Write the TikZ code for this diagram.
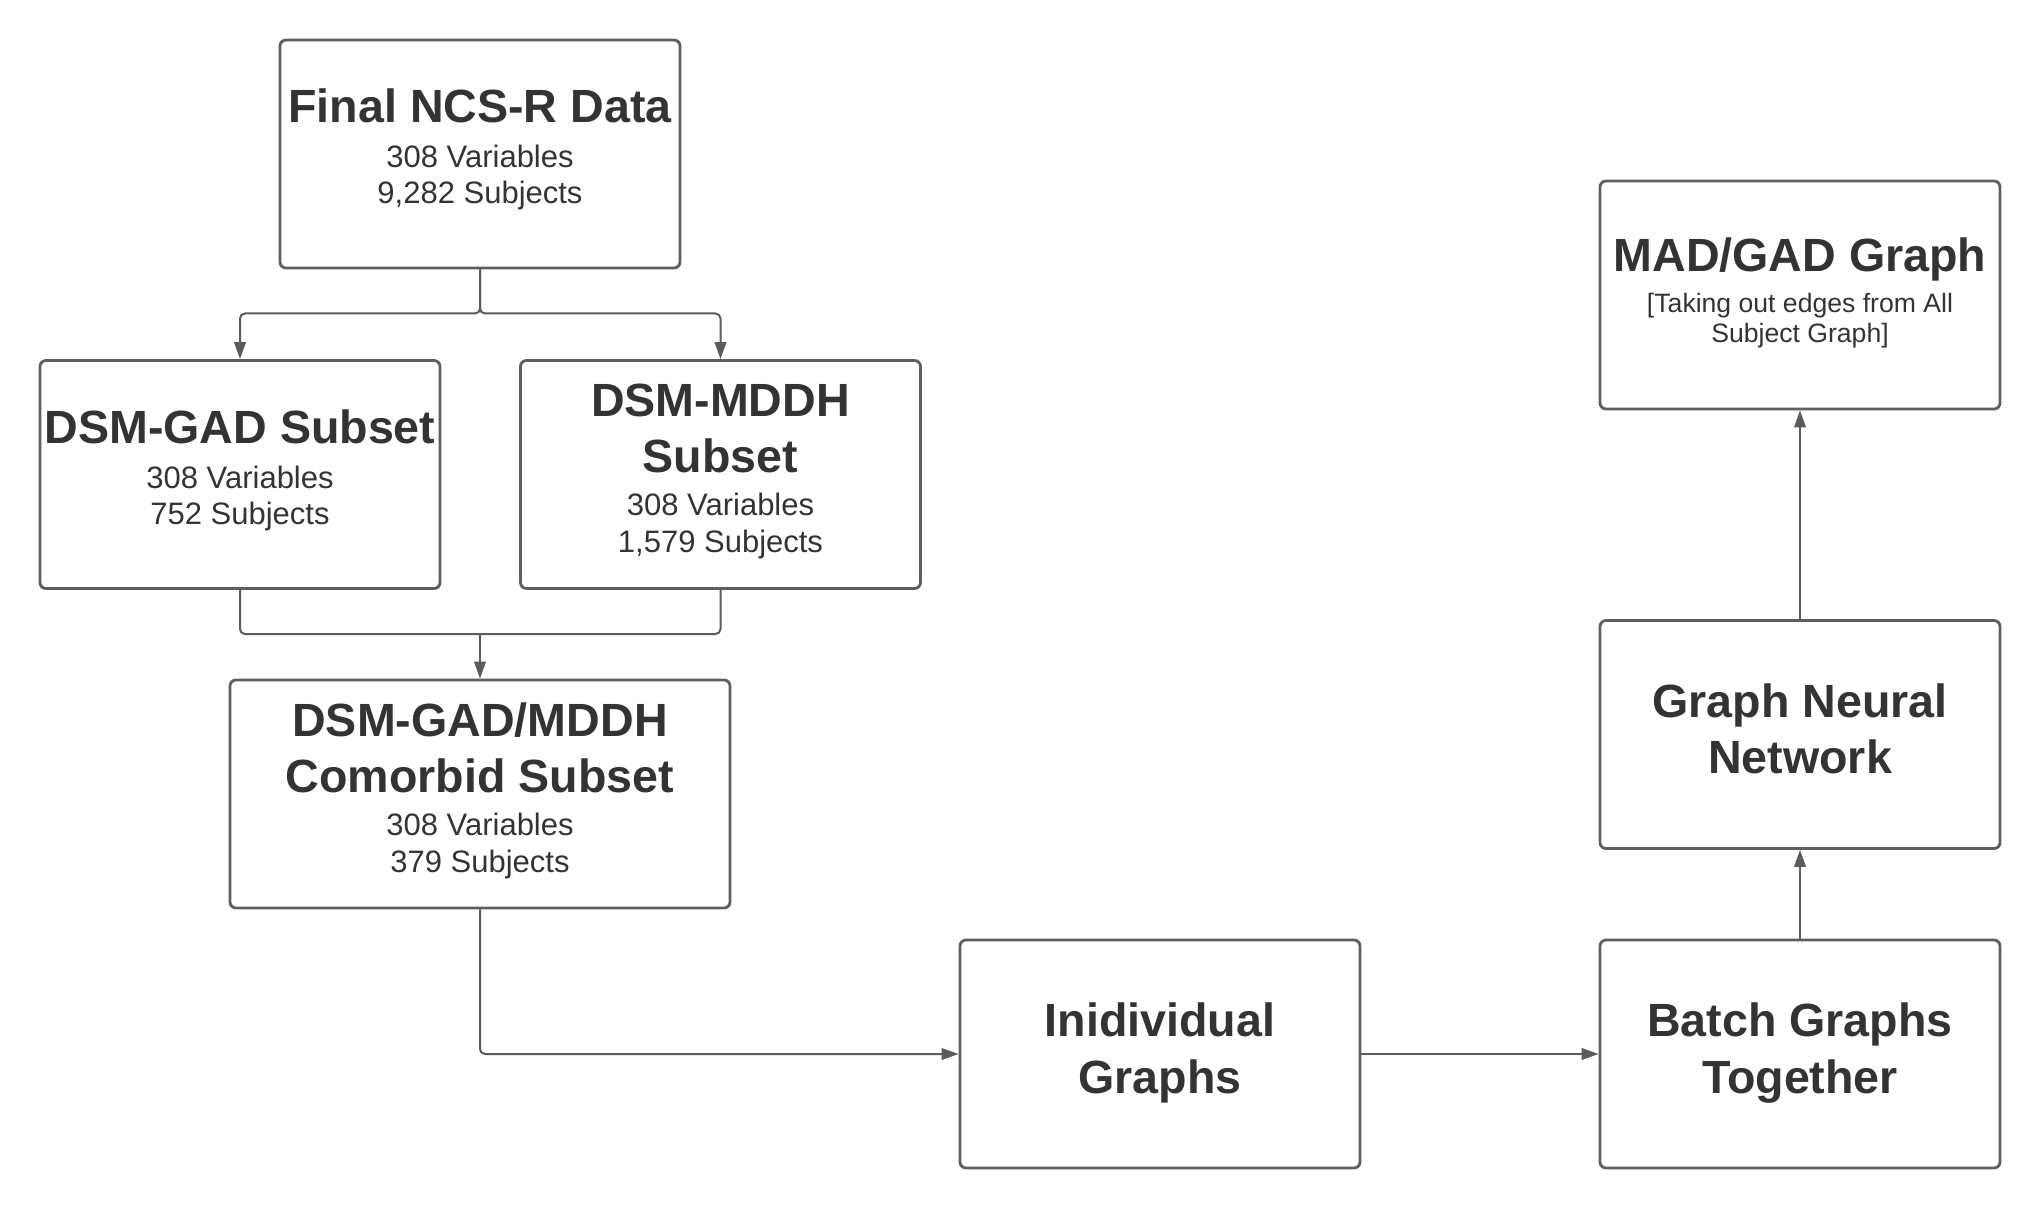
\documentclass[tikz,border=0pt]{standalone}
\usepackage{fontspec}
\setmainfont{Liberation Sans}
\usetikzlibrary{arrows.meta,calc}
\definecolor{linegray}{HTML}{5B5B5B}
\definecolor{boxgray}{HTML}{5E5E5E}
\definecolor{txt}{HTML}{333333}
\tikzset{
  box/.style={draw=boxgray, line width=1.4pt, rounded corners=3pt, minimum width=200pt, minimum height=114pt, inner sep=0pt},
  ttl/.style={anchor=base, inner sep=0pt, text=txt, font=\fontsize{23.3pt}{28pt}\selectfont\bfseries},
  sub/.style={anchor=base, inner sep=0pt, text=txt, font=\fontsize{15.5pt}{18.6pt}\selectfont},
  note/.style={anchor=base, inner sep=0pt, text=txt, font=\fontsize{13.3pt}{16pt}\selectfont},
  conn/.style={draw=linegray, line width=1pt, rounded corners=2.5pt},
  arr/.style={conn, -{Triangle[length=8.5pt,width=5.8pt]}},
}
\begin{document}
\begin{tikzpicture}[x=0.5pt,y=-0.5pt]
\useasboundingbox (0,0) rectangle (2040,1209);

% boxes
\node[box] (fin) at (480,154) {};
\node[box] (gad) at (240,474.5) {};
\node[box] (mddh) at (720.5,474.5) {};
\node[box, minimum width=250pt] (com) at (480,794) {};
\node[box] (ind) at (1160,1054) {};
\node[box] (bat) at (1800,1054) {};
\node[box] (gnn) at (1800,734.5) {};
\node[box] (mad) at (1800,295) {};

% texts
\node[ttl] (fin1) at ($(fin.center)+(0,-31)$) {Final NCS-R Data};
\node[sub] (fin2) at ($(fin.center)+(0,14)$) {308 Variables};
\node[sub] (fin3) at ($(fin.center)+(0,50)$) {9,282 Subjects};

\node[ttl] (gad1) at ($(gad.center)+(0,-31)$) {DSM-GAD Subset};
\node[sub] (gad2) at ($(gad.center)+(0,14)$) {308 Variables};
\node[sub] (gad3) at ($(gad.center)+(0,50)$) {752 Subjects};

\node[ttl] (mddh1) at ($(mddh.center)+(0,-58)$) {DSM-MDDH};
\node[ttl] (mddh2) at ($(mddh.center)+(0,-2)$) {Subset};
\node[sub] (mddh3) at ($(mddh.center)+(0,41)$) {308 Variables};
\node[sub] (mddh4) at ($(mddh.center)+(0,78)$) {1,579 Subjects};

\node[ttl] (com1) at ($(com.center)+(0,-58)$) {DSM-GAD/MDDH};
\node[ttl] (com2) at ($(com.center)+(0,-2)$) {Comorbid Subset};
\node[sub] (com3) at ($(com.center)+(0,41)$) {308 Variables};
\node[sub] (com4) at ($(com.center)+(0,78)$) {379 Subjects};

\node[ttl] (ind1) at ($(ind.center)+(0,-17.5)$) {Inidividual};
\node[ttl] (ind2) at ($(ind.center)+(0,39)$) {Graphs};

\node[ttl] (bat1) at ($(bat.center)+(0,-17.5)$) {Batch Graphs};
\node[ttl] (bat2) at ($(bat.center)+(0,39)$) {Together};

\node[ttl] (gnn1) at ($(gnn.center)+(0,-17.5)$) {Graph Neural};
\node[ttl] (gnn2) at ($(gnn.center)+(0,39)$) {Network};

\node[ttl] (mad1) at ($(mad.center)+(0,-23.5)$) {MAD/GAD Graph};
\node[note] (mad2) at ($(mad.center)+(0,18)$) {[Taking out edges from All};
\node[note] (mad3) at ($(mad.center)+(0,48)$) {Subject Graph]};

% connectors
\coordinate (split) at (480,313.5);
\draw[arr] (fin.south) -- (split) -| (gad.north);
\draw[arr] (fin.south) -- (split) -| (mddh.north);

\coordinate (merge) at (480,634);
\draw[conn] (gad.south) |- (merge);
\draw[conn] (mddh.south) |- (merge);
\draw[arr] (merge) -- (com.north);

\draw[arr] (com.south) |- (ind.west);
\draw[arr] (ind.east) -- (bat.west);
\draw[arr] (bat.north) -- (gnn.south);
\draw[arr] (gnn.north) -- (mad.south);
\end{tikzpicture}
\end{document}
